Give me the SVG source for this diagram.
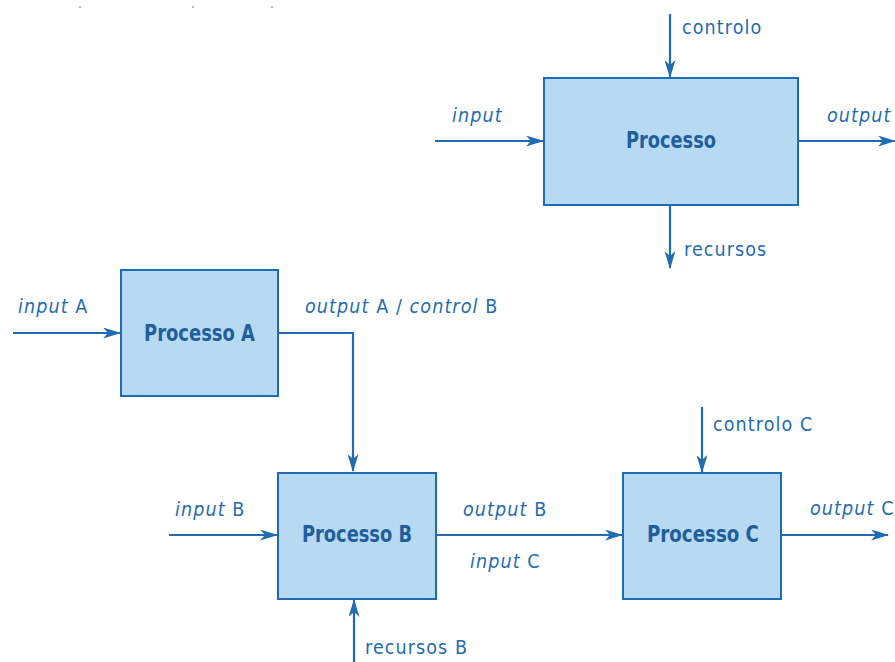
<svg xmlns="http://www.w3.org/2000/svg" width="895" height="662" viewBox="0 0 895 662">
  <style>
    .box { fill: #b7d9f2; stroke: #1f6cb2; stroke-width: 2; }
    .title { font-family: "DejaVu Sans Condensed", "DejaVu Sans", sans-serif; font-stretch: condensed; font-weight: bold; font-size: 22.5px; fill: #1f5f9e; text-anchor: middle; }
    .lbl { font-family: "DejaVu Sans Condensed", "DejaVu Sans", sans-serif; font-stretch: condensed; font-size: 19.5px; fill: #1f6cb2; letter-spacing: 1.1px; }
    .it { font-style: italic; }
    .wire { stroke: #1f6cb2; stroke-width: 2.2; fill: none; }
    .arrow { marker-end: url(#head); }
    .dot { fill: #a9bcd6; }
  </style>
  <defs>
    <marker id="head" viewBox="0 0 18 11" refX="17" refY="5.5" markerWidth="18" markerHeight="11" markerUnits="userSpaceOnUse" orient="auto">
      <path d="M0,0 L18,5.5 L0,11 L5,5.5 z" fill="#1f6cb2"/>
    </marker>
  </defs>
  <rect width="895" height="662" fill="#ffffff"/>

  <!-- small marks along the top edge -->
  <rect class="dot" x="79" y="6" width="2" height="2"/>
  <rect class="dot" x="192" y="6" width="2" height="2"/>
  <rect class="dot" x="271" y="6" width="2" height="2"/>

  <g id="connectors">
    <!-- generic process -->
    <line class="wire arrow" x1="670" y1="14" x2="670" y2="77"/>
    <line class="wire arrow" x1="435" y1="141" x2="543" y2="141"/>
    <line class="wire arrow" x1="798" y1="141" x2="895" y2="141"/>
    <line class="wire arrow" x1="670" y1="205" x2="670" y2="268"/>
    <!-- chained processes -->
    <line class="wire arrow" x1="13" y1="333" x2="120" y2="333"/>
    <polyline class="wire arrow" points="278,333 353,333 353,471"/>
    <line class="wire arrow" x1="169" y1="535" x2="277" y2="535"/>
    <line class="wire arrow" x1="354" y1="662" x2="354" y2="600"/>
    <line class="wire arrow" x1="436" y1="535" x2="622" y2="535"/>
    <line class="wire arrow" x1="702" y1="407" x2="702" y2="472"/>
    <line class="wire arrow" x1="781" y1="535" x2="888" y2="535"/>
  </g>

  <g id="labels">
    <text class="lbl" x="682" y="34">controlo</text>
    <text class="lbl it" x="452" y="122">input</text>
    <text class="lbl it" x="827" y="122">output</text>
    <text class="lbl" x="684" y="256">recursos</text>
    <text class="lbl" x="18" y="313"><tspan class="it">input</tspan> A</text>
    <text class="lbl" x="305" y="313"><tspan class="it">output</tspan> A / <tspan class="it">control</tspan> B</text>
    <text class="lbl" x="175" y="516"><tspan class="it">input</tspan> B</text>
    <text class="lbl" x="365" y="654">recursos B</text>
    <text class="lbl" x="463" y="516"><tspan class="it">output</tspan> B</text>
    <text class="lbl" x="470" y="568"><tspan class="it">input</tspan> C</text>
    <text class="lbl" x="713" y="431">controlo C</text>
    <text class="lbl" x="810" y="515"><tspan class="it">output</tspan> C</text>
  </g>

  <g id="processo">
    <rect class="box" x="544" y="78" width="254" height="127"/>
    <text class="title" x="671" y="148" textLength="90" lengthAdjust="spacingAndGlyphs">Processo</text>
  </g>
  <g id="processo-a">
    <rect class="box" x="121" y="270" width="157" height="126"/>
    <text class="title" x="199.5" y="341" textLength="111" lengthAdjust="spacingAndGlyphs">Processo A</text>
  </g>
  <g id="processo-b">
    <rect class="box" x="278" y="473" width="158" height="126"/>
    <text class="title" x="357" y="542" textLength="110" lengthAdjust="spacingAndGlyphs">Processo B</text>
  </g>
  <g id="processo-c">
    <rect class="box" x="623" y="473" width="158" height="126"/>
    <text class="title" x="703" y="542" textLength="112" lengthAdjust="spacingAndGlyphs">Processo C</text>
  </g>
</svg>
